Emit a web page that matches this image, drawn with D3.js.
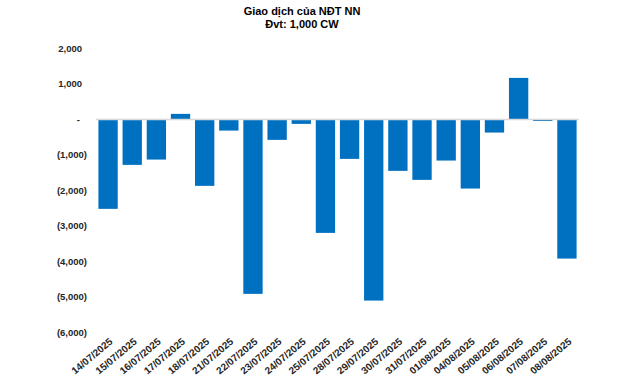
<!DOCTYPE html>
<html>
<head>
<meta charset="utf-8">
<script src="https://cdn.jsdelivr.net/npm/d3@7"></script>
<style>
  html, body { margin: 0; padding: 0; background: #fff; }
  svg { display: block; font-family: "Liberation Sans", Arial, sans-serif; }
</style>
</head>
<body>
<svg id="chart" width="640" height="384"></svg>
<script>
const titleLines = ["Giao dịch của NĐT NN", "Đvt: 1,000 CW"];
const dates = ["14/07/2025","15/07/2025","16/07/2025","17/07/2025","18/07/2025","21/07/2025","22/07/2025","23/07/2025","24/07/2025","25/07/2025","28/07/2025","29/07/2025","30/07/2025","31/07/2025","01/08/2025","04/08/2025","05/08/2025","06/08/2025","07/08/2025","08/08/2025"];
const values = [-2525, -1284, -1134, 155, -1876, -316, -4924, -578, -127, -3203, -1115, -5113, -1453, -1707, -1162, -1952, -372, 1171, -45, -3928];
const yTicks = [2000, 1000, 0, -1000, -2000, -3000, -4000, -5000, -6000];

const svg = d3.select("#chart");

const x = d3.scaleBand().domain(dates).range([96, 579]).paddingInner(0.2).paddingOuter(0.1);
const y = d3.scaleLinear().domain([-6000, 2000]).range([332, 48.5]);

const fmt = v => v === 0 ? "-" : (v < 0 ? "(" + d3.format(",")(-v) + ")" : d3.format(",")(v));

// Title
svg.append("g").selectAll("text").data(titleLines).join("text")
  .attr("x", 302).attr("y", (d, i) => 15 + i * 13)
  .attr("text-anchor", "middle")
  .attr("font-size", 11).attr("font-weight", "bold").attr("fill", "#000")
  .text(d => d);

// Y axis labels
const yAxis = d3.axisLeft(y).tickValues(yTicks).tickFormat(fmt).tickSize(0).tickPadding(0);
const gy = svg.append("g").attr("transform", "translate(87,0)").call(yAxis);
gy.select(".domain").remove();
gy.selectAll("text")
  .attr("font-size", 9.5).attr("font-weight", "bold").attr("fill", "#262626")
  .attr("font-family", "Liberation Sans, Arial, sans-serif")
  .attr("dx", d => d > 0 ? -5 : (d === 0 ? -7 : 0));

// Bars
svg.append("g").selectAll("rect").data(values).join("rect")
  .attr("x", (d, i) => x(dates[i]))
  .attr("width", x.bandwidth())
  .attr("y", d => y(Math.max(0, d)))
  .attr("height", d => Math.abs(y(d) - y(0)))
  .attr("fill", "#0070C0");

// Zero line
svg.append("line")
  .attr("x1", 96).attr("x2", 579)
  .attr("y1", y(0)).attr("y2", y(0))
  .attr("stroke", "#d9d9d9").attr("stroke-width", 1.5);

// X labels
const xAxis = d3.axisBottom(x).tickSize(0).tickPadding(0);
const gx = svg.append("g").attr("transform", "translate(0,340)").call(xAxis);
gx.select(".domain").remove();
gx.selectAll("text")
  .attr("font-size", 10).attr("font-weight", "bold").attr("fill", "#262626")
  .attr("font-family", "Liberation Sans, Arial, sans-serif")
  .attr("text-anchor", "end")
  .attr("dy", "0.35em")
  .attr("transform", "translate(3,0) rotate(-40)");
</script>
</body>
</html>
